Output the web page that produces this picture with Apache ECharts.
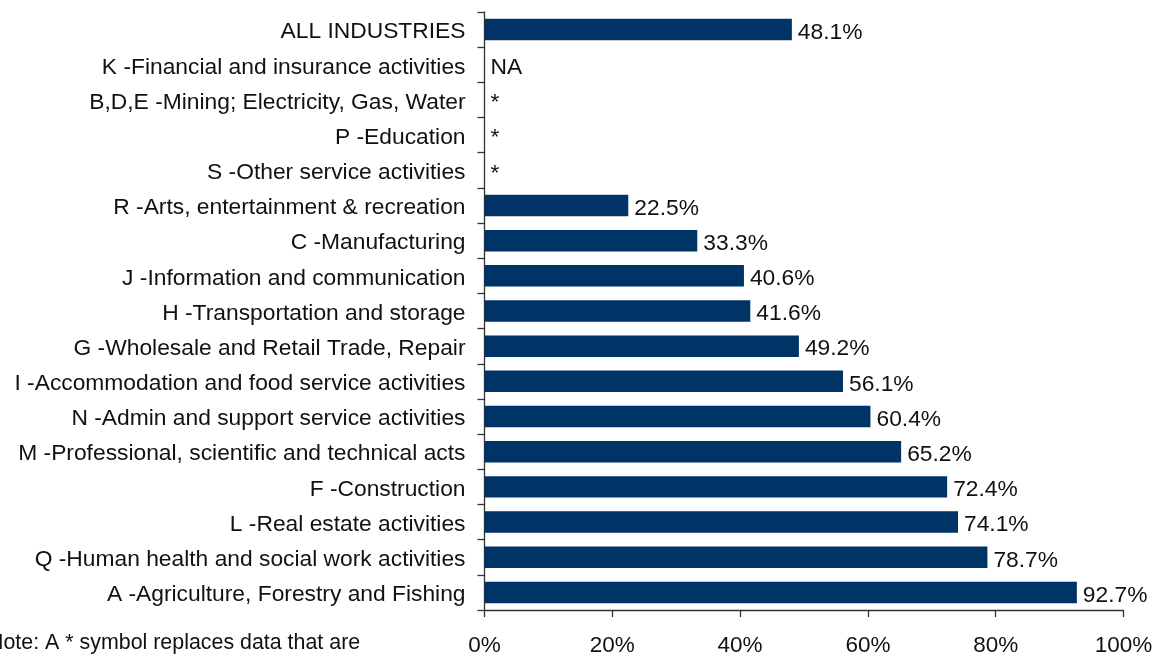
<!DOCTYPE html>
<html><head><meta charset="utf-8">
<script src="https://cdn.jsdelivr.net/npm/echarts@6/dist/echarts.min.js"></script>
<style>html,body{margin:0;padding:0;background:#fff}#c{width:1159px;height:657px}</style>
</head><body><div id="c"></div>
<script>
var categories = [
  "ALL INDUSTRIES",
  "K -Financial and insurance activities",
  "B,D,E -Mining; Electricity, Gas, Water",
  "P -Education",
  "S -Other service activities",
  "R -Arts, entertainment & recreation",
  "C -Manufacturing",
  "J -Information and communication",
  "H -Transportation and storage",
  "G -Wholesale and Retail Trade, Repair",
  "I -Accommodation and food service activities",
  "N -Admin and support service activities",
  "M -Professional, scientific and technical acts",
  "F -Construction",
  "L -Real estate activities",
  "Q -Human health and social work activities",
  "A -Agriculture, Forestry and Fishing"
];
var values = [48.1, 0, 0, 0, 0, 22.5, 33.3, 40.6, 41.6, 49.2, 56.1, 60.4, 65.2, 72.4, 74.1, 78.7, 92.7];
var valueLabels = ["48.1%", "NA", "*", "*", "*", "22.5%", "33.3%", "40.6%", "41.6%", "49.2%", "56.1%", "60.4%", "65.2%", "72.4%", "74.1%", "78.7%", "92.7%"];
var xTicks = [0, 20, 40, 60, 80, 100];
var noteText = "Note: A * symbol replaces data that are";

var font = "Liberation Sans, Arial, sans-serif";
var chart = echarts.init(document.getElementById('c'), null, {renderer: 'canvas'});
chart.setOption({
  animation: false,
  grid: {left: 484.5, right: 35.5, top: 12, bottom: 46, containLabel: false},
  xAxis: {
    type: 'value', min: xTicks[0], max: xTicks[xTicks.length - 1], interval: 20,
    axisLine: {show: true, lineStyle: {color: '#333', width: 1.3}},
    axisTick: {show: true, length: 7, lineStyle: {color: '#333', width: 1.3}},
    splitLine: {show: false},
    axisLabel: {formatter: function (v) { return v + '%'; }, color: '#111', fontFamily: font, fontSize: 22.5, margin: 24}
  },
  yAxis: {
    type: 'category', data: categories, inverse: true,
    axisLine: {show: true, lineStyle: {color: '#333', width: 1.3}},
    axisTick: {show: true, length: 7, lineStyle: {color: '#333', width: 1.3}},
    axisLabel: {
      color: '#111', fontFamily: font, fontSize: 22.8, margin: 19,
      formatter: function (v) { return '{a|' + v + '}'; },
      rich: {a: {color: '#111', fontFamily: font, fontSize: 22.8, padding: [5, 0, 0, 0]}}
    }
  },
  series: [{
    type: 'bar', data: values, barCategoryGap: '39%',
    itemStyle: {color: '#003366'},
    label: {
      show: true, position: 'right', distance: 6, color: '#111', fontFamily: font, fontSize: 22.8,
      offset: [0, 3],
      formatter: function (p) { return valueLabels[p.dataIndex]; }
    }
  }],
  graphic: [{
    type: 'text', left: -12, top: 633,
    style: {text: noteText, fill: '#111', font: '21.4px ' + font}
  }]
});
</script></body></html>
